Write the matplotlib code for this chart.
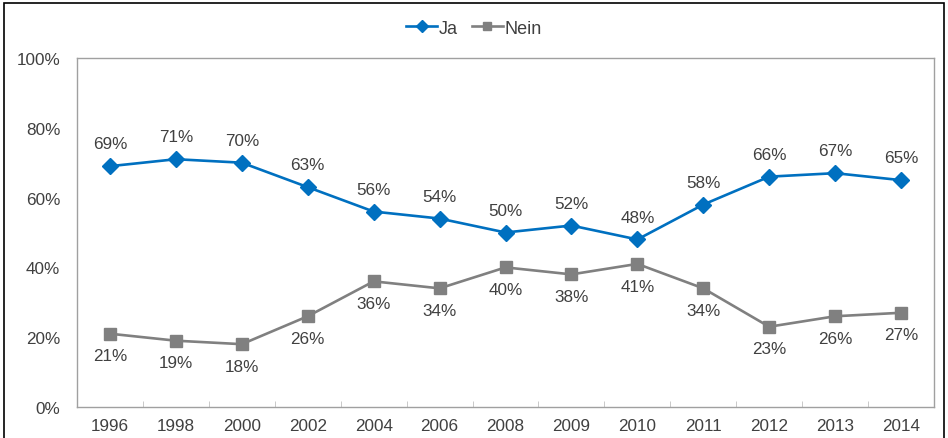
import matplotlib.pyplot as plt
from matplotlib.patches import Rectangle
from matplotlib.ticker import FixedLocator

plt.rcParams['font.family'] = ['Liberation Sans', 'DejaVu Sans']

years = ["1996", "1998", "2000", "2002", "2004", "2006", "2008", "2009", "2010", "2011", "2012", "2013", "2014"]
ja = [69, 71, 70, 63, 56, 54, 50, 52, 48, 58, 66, 67, 65]
nein = [21, 19, 18, 26, 36, 34, 40, 38, 41, 34, 23, 26, 27]

blue = "#0070C0"
grey = "#808080"
txt = "#404040"
fs = 12.3

fig = plt.figure(figsize=(9.48, 4.39), dpi=100)
ax = fig.add_axes([77/948, 1-408/439, (934-77)/948, (408-59)/439])

x = list(range(len(years)))
ax.plot(x, ja, color=blue, lw=1.9, marker="D", ms=8.5, label="Ja")
ax.plot(x, nein, color=grey, lw=1.9, marker="s", ms=8, label="Nein")

for i in x:
    ax.annotate(f"{ja[i]}%", (i, ja[i]), xytext=(0, 16), textcoords="offset points",
                ha="center", va="center", fontsize=fs, color=txt)
    ax.annotate(f"{nein[i]}%", (i, nein[i]), xytext=(0, -16), textcoords="offset points",
                ha="center", va="center", fontsize=fs, color=txt)

ax.set_xlim(-0.5, len(years) - 0.5)
ax.set_ylim(0, 100)
ax.set_xticks(x)
ax.set_xticklabels(years)
ax.set_yticks(range(0, 101, 20))
ax.set_yticklabels([f"{v}%" for v in range(0, 101, 20)])
ax.xaxis.set_minor_locator(FixedLocator([i + 0.5 for i in range(-1, len(years))]))
ax.tick_params(axis="x", which="major", length=0, pad=8, labelsize=fs, labelcolor=txt)
ax.tick_params(axis="x", which="minor", length=4, direction="in", color="#C0C0C0")
ax.tick_params(axis="y", length=0, pad=12, labelsize=fs, labelcolor=txt)
for s in ax.spines.values():
    s.set_color("#A0A0A0")
    s.set_linewidth(1)

fig.legend(loc="upper center", bbox_to_anchor=(0.5, 0.99), ncol=2, frameon=False,
           fontsize=13, handlelength=1.7, handletextpad=0.1, columnspacing=0.8,
           labelcolor=txt, markerscale=0.75)

fig.patches.append(Rectangle((4/948, -0.02), 940/948, 1-4/439+0.02, transform=fig.transFigure,
                             fill=False, edgecolor="black", lw=1.2))

fig.savefig("out.png", dpi=100)
